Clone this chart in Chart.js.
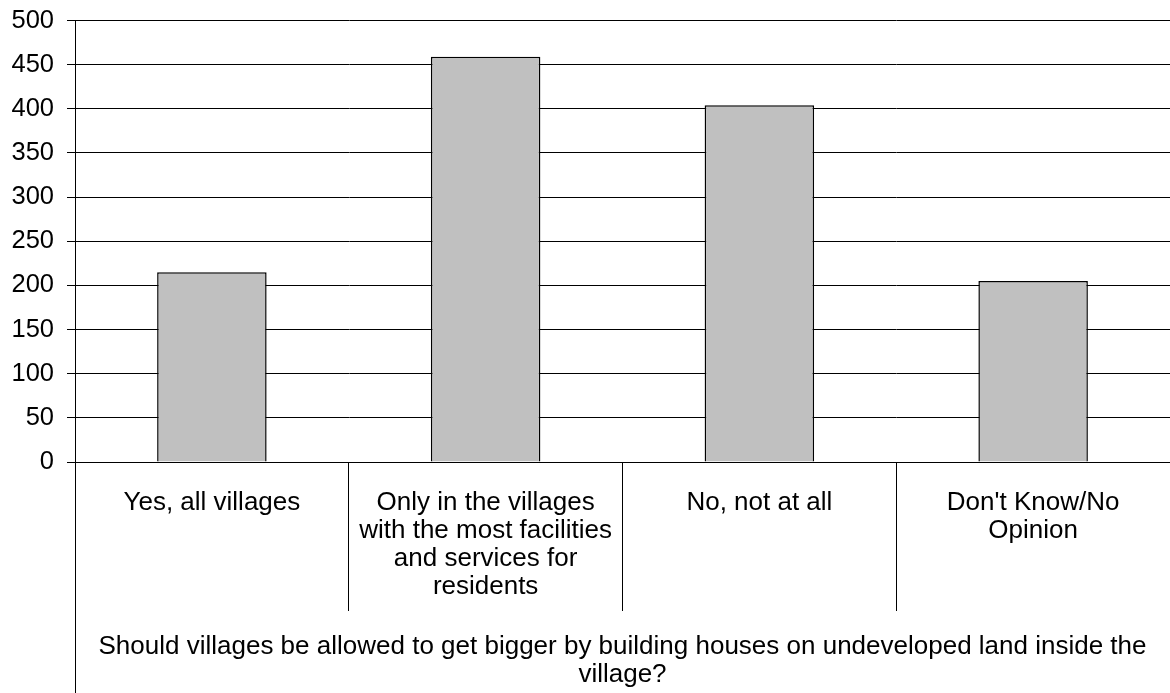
<!DOCTYPE html>
<html>
<head>
<meta charset="utf-8">
<script src="https://cdn.jsdelivr.net/npm/chart.js@4"></script>
<style>
  html, body { margin: 0; padding: 0; background: #fff; }
  #wrap { width: 1170px; height: 693px; }
</style>
</head>
<body>
<div id="wrap"><canvas id="c" width="1170" height="693"></canvas></div>
<script>
const categories = [
  "Yes, all villages",
  ["Only in the villages", "with the most facilities", "and services for", "residents"],
  "No, not at all",
  ["Don't Know/No", "Opinion"]
];
const counts = [215, 459, 404, 205];
const axisTitle = [
  "Should villages be allowed to get bigger by building houses on undeveloped land inside the",
  "village?"
];
const yMin = 0, yMax = 500, yStep = 50;

const YFONT = { family: "'Liberation Sans', Arial, sans-serif", size: 25.5, lineHeight: 1.09 };
const XFONT = { family: "'Liberation Sans', Arial, sans-serif", size: 26, lineHeight: 1.07 };

const axisExtension = {
  id: 'axisExtension',
  afterDraw(chart) {
    const { ctx, chartArea } = chart;
    const x = Math.round(chartArea.left + 0.5) - 0.5;
    ctx.save();
    ctx.strokeStyle = '#000';
    ctx.lineWidth = 1;
    ctx.beginPath();
    ctx.moveTo(x, chartArea.bottom + 149);
    ctx.lineTo(x, chart.height);
    ctx.stroke();
    ctx.restore();
  }
};

new Chart(document.getElementById('c'), {
  type: 'bar',
  data: {
    labels: categories,
    datasets: [{
      data: counts,
      backgroundColor: '#c0c0c0',
      borderColor: '#000',
      borderWidth: 1.5,
      borderSkipped: 'start',
      categoryPercentage: 1,
      barPercentage: 0.4
    }]
  },
  options: {
    responsive: false,
    animation: false,
    devicePixelRatio: 1,
    layout: { padding: { left: 12, top: 20.5, right: 0, bottom: 0 } },
    plugins: { legend: { display: false }, tooltip: { enabled: false }, title: { display: false } },
    scales: {
      x: {
        offset: true,
        afterFit(scale) { scale.height = 231; },
        grid: {
          offset: true,
          drawOnChartArea: false,
          drawTicks: true,
          tickLength: 149,
          color: '#000',
          lineWidth: 1
        },
        border: { display: true, color: '#000' },
        ticks: {
          color: '#000',
          font: XFONT,
          padding: -122,
          maxRotation: 0,
          minRotation: 0,
          autoSkip: false
        },
        title: {
          display: true,
          text: axisTitle,
          color: '#000',
          font: XFONT,
          padding: { top: 4, bottom: 4 }
        }
      },
      y: {
        min: yMin,
        max: yMax,
        afterFit(scale) { scale.width = 63; scale.paddingTop = 0; scale.paddingBottom = 0; },
        ticks: {
          stepSize: yStep,
          color: '#000',
          font: YFONT,
          padding: 13
        },
        grid: {
          color: '#000',
          lineWidth: 1,
          drawTicks: true,
          tickLength: 8
        },
        border: { display: true, color: '#000' }
      }
    }
  },
  plugins: [axisExtension]
});
</script>
</body>
</html>
